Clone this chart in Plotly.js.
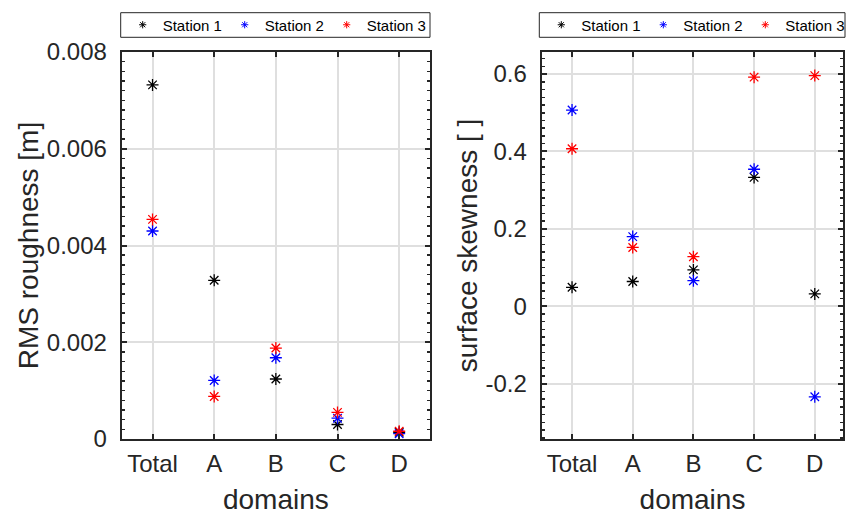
<!DOCTYPE html>
<html>
<head>
<meta charset="utf-8">
<script src="https://cdn.plot.ly/plotly-3.0.1.min.js"></script>
<style>html,body{margin:0;padding:0;background:#fff}#chart{width:854px;height:515px}</style>
</head>
<body>
<div id="chart"></div>
<script>
const categories = ['Total', 'A', 'B', 'C', 'D'];
const stationNames = ['Station 1', 'Station 2', 'Station 3'];
const stationColors = ['#000000', '#0000ff', '#ff0000'];

const rmsStation1 = [0.00732, 0.00328, 0.00124, 0.00030, 0.00014];
const rmsStation2 = [0.00430, 0.00121, 0.00168, 0.00043, 0.00011];
const rmsStation3 = [0.00454, 0.00088, 0.00188, 0.00055, 0.00016];

const skewStation1 = [0.049, 0.064, 0.094, 0.333, 0.032];
const skewStation2 = [0.507, 0.180, 0.066, 0.354, -0.234];
const skewStation3 = [0.407, 0.152, 0.128, 0.592, 0.596];

const rmsTickVals = [0, 0.002, 0.004, 0.006, 0.008];
const rmsTickText = ['0', '0.002', '0.004', '0.006', '0.008'];
const skewTickVals = [-0.2, 0, 0.2, 0.4, 0.6];
const skewTickText = ['-0.2', '0', '0.2', '0.4', '0.6'];

const FONT = 'Liberation Sans, Arial, Helvetica, sans-serif';
const INK = '#262626';
const GRID = '#dfdfdf';

const rmsSeries = [rmsStation1, rmsStation2, rmsStation3];
const skewSeries = [skewStation1, skewStation2, skewStation3];

const traces = [];
function addPanel(series, xa, ya, legendId) {
  series.forEach((vals, i) => {
    traces.push({
      type: 'scatter', mode: 'markers', x: categories, y: vals,
      xaxis: xa, yaxis: ya, showlegend: false, hoverinfo: 'x+y',
      marker: {symbol: 'asterisk-open', size: 10, color: stationColors[i],
               line: {color: stationColors[i], width: 1.3}}
    });
  });
  series.forEach((vals, i) => {
    traces.push({
      type: 'scatter', mode: 'markers', x: [null], y: [null],
      xaxis: xa, yaxis: ya, name: stationNames[i], legend: legendId,
      marker: {symbol: 'asterisk-open', size: 6, color: stationColors[i],
               line: {color: stationColors[i], width: 1}}
    });
  });
}
addPanel(rmsSeries, 'x', 'y', 'legend');
addPanel(skewSeries, 'x2', 'y2', 'legend2');

const xCommon = {
  type: 'category', showline: true, linecolor: INK, linewidth: 2, mirror: 'ticks',
  ticks: 'inside', ticklen: 5, tickwidth: 2, tickcolor: INK,
  showgrid: true, gridcolor: GRID, gridwidth: 2, zeroline: false,
  tickfont: {family: FONT, size: 24, color: INK}, ticklabelstandoff: 2,
  automargin: false, fixedrange: true
};
const yCommon = {
  showline: true, linecolor: INK, linewidth: 2, mirror: 'ticks',
  ticks: 'inside', ticklen: 5, tickwidth: 2, tickcolor: INK,
  showgrid: true, gridcolor: GRID, gridwidth: 2, zeroline: false,
  tickfont: {family: FONT, size: 24, color: INK}, ticklabelstandoff: 8,
  tickmode: 'array', automargin: false, fixedrange: true
};
const legendCommon = {
  orientation: 'h', xanchor: 'left', yanchor: 'middle', y: 1 - 25 / 515,
  borderwidth: 0, bgcolor: 'rgba(0,0,0,0)',
  font: {family: FONT, size: 15, color: '#000000'},
  entrywidth: 57, entrywidthmode: 'pixels', itemclick: false
};

const legendBox = (x0, x1) => ({
  type: 'rect', xref: 'paper', yref: 'paper',
  x0: x0 / 854, x1: x1 / 854, y0: 1 - 37.3 / 515, y1: 1 - 12.7 / 515,
  line: {color: INK, width: 1}, fillcolor: '#ffffff', layer: 'below'
});

const layout = {
  width: 854, height: 515,
  margin: {l: 0, r: 0, t: 0, b: 0},
  paper_bgcolor: '#ffffff', plot_bgcolor: '#ffffff',
  showlegend: true,
  xaxis: Object.assign({}, xCommon, {
    domain: [121.7 / 854, 430 / 854], anchor: 'y', range: [-0.5, 4.5],
    title: {text: 'domains', font: {family: FONT, size: 28, color: INK}, standoff: 18}
  }),
  yaxis: Object.assign({}, yCommon, {
    domain: [1 - 439 / 515, 1 - 52 / 515], anchor: 'x', range: [0, 0.008],
    tickvals: rmsTickVals, ticktext: rmsTickText,
    minor: {ticks: 'inside', ticklen: 3, tickwidth: 1.5, tickcolor: INK, dtick: 0.0002, showgrid: false},
    title: {text: 'RMS roughness [m]', font: {family: FONT, size: 28, color: INK}, standoff: 0}
  }),
  xaxis2: Object.assign({}, xCommon, {
    domain: [541.7 / 854, 843.3 / 854], anchor: 'y2', range: [-0.5, 4.47],
    title: {text: 'domains', font: {family: FONT, size: 28, color: INK}, standoff: 18}
  }),
  yaxis2: Object.assign({}, yCommon, {
    domain: [1 - 439 / 515, 1 - 52 / 515], anchor: 'x2', range: [-0.343, 0.657],
    tickvals: skewTickVals, ticktext: skewTickText,
    minor: {ticks: 'inside', ticklen: 3, tickwidth: 1.5, tickcolor: INK, dtick: 0.02, showgrid: false},
    title: {text: 'surface skewness [ ]', font: {family: FONT, size: 28, color: INK}, standoff: 0}
  }),
  legend: Object.assign({}, legendCommon, {x: 122.7 / 854}),
  legend2: Object.assign({}, legendCommon, {x: 541.3 / 854}),
  shapes: [legendBox(120.7, 430), legendBox(539.3, 845)]
};

Plotly.newPlot('chart', traces, layout, {displayModeBar: false, staticPlot: true});
</script>
</body>
</html>
